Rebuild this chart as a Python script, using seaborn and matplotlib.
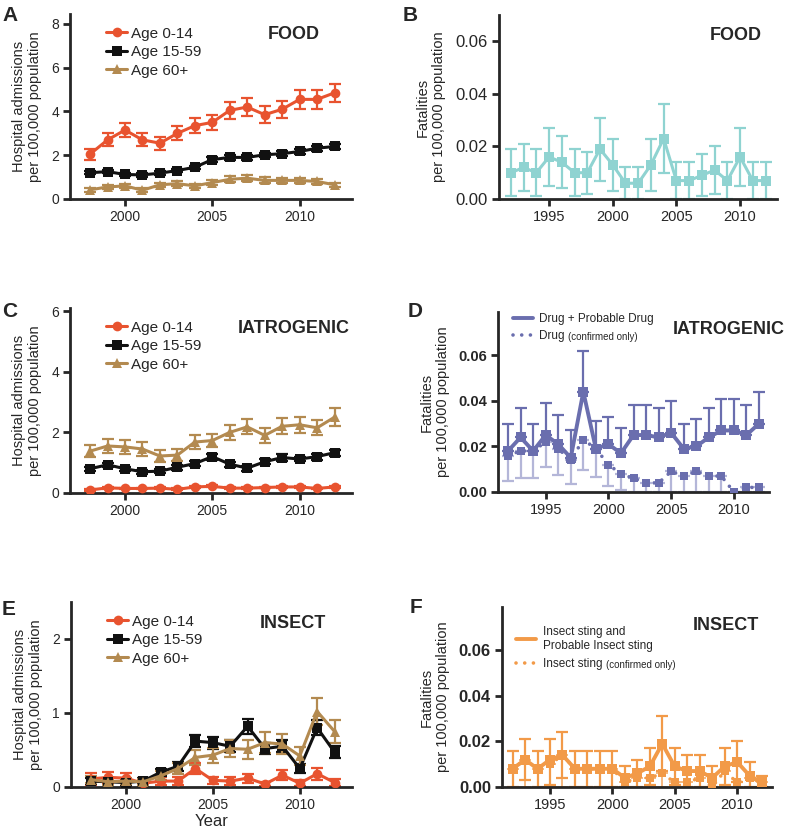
import numpy as np
import pandas as pd
import matplotlib
matplotlib.use('Agg')
import matplotlib.pyplot as plt
from matplotlib.lines import Line2D
import seaborn as sns

sns.set_style("ticks")
plt.rcParams["font.family"] = ["Liberation Sans", "DejaVu Sans"]

# === DONNEES ===
ANNEES_ADM = list(range(1998, 2013))
ANNEES_DEC = list(range(1992, 2013))
GROUPES = ["Age 0-14", "Age 15-59", "Age 60+"]

# A - food admissions
food_adm = {
    "Age 0-14": [2.05, 2.7, 3.15, 2.7, 2.55, 3.0, 3.35, 3.5, 4.05, 4.2, 3.85, 4.1, 4.55, 4.55, 4.85],
    "Age 15-59": [1.2, 1.25, 1.12, 1.1, 1.18, 1.3, 1.45, 1.8, 1.9, 1.9, 2.02, 2.07, 2.17, 2.32, 2.4],
    "Age 60+": [0.42, 0.55, 0.6, 0.4, 0.65, 0.7, 0.6, 0.75, 0.9, 0.95, 0.85, 0.85, 0.85, 0.8, 0.65],
}
food_adm_err = {
    "Age 0-14": [0.25, 0.3, 0.32, 0.3, 0.3, 0.32, 0.35, 0.35, 0.38, 0.4, 0.38, 0.38, 0.42, 0.42, 0.42],
    "Age 15-59": [0.08, 0.08, 0.08, 0.08, 0.08, 0.08, 0.08, 0.1, 0.1, 0.1, 0.1, 0.1, 0.1, 0.12, 0.12],
    "Age 60+": [0.08, 0.08, 0.08, 0.08, 0.08, 0.1, 0.1, 0.12, 0.14, 0.14, 0.14, 0.13, 0.13, 0.13, 0.1],
}

# C - iatrogenic admissions
iatro_adm = {
    "Age 0-14": [0.1, 0.17, 0.15, 0.15, 0.16, 0.12, 0.2, 0.22, 0.16, 0.16, 0.18, 0.2, 0.2, 0.15, 0.2],
    "Age 15-59": [0.8, 0.93, 0.8, 0.7, 0.72, 0.85, 0.97, 1.2, 0.95, 0.82, 1.03, 1.17, 1.12, 1.2, 1.33],
    "Age 60+": [1.38, 1.55, 1.52, 1.45, 1.22, 1.25, 1.68, 1.73, 2.0, 2.18, 1.9, 2.2, 2.25, 2.15, 2.5],
}
iatro_adm_err = {
    "Age 0-14": [0.03] * 15,
    "Age 15-59": [0.07, 0.07, 0.07, 0.07, 0.07, 0.08, 0.08, 0.1, 0.08, 0.08, 0.08, 0.1, 0.08, 0.1, 0.1],
    "Age 60+": [0.2, 0.22, 0.22, 0.22, 0.2, 0.2, 0.22, 0.22, 0.25, 0.25, 0.24, 0.26, 0.26, 0.25, 0.3],
}

# E - insect admissions
insect_adm = {
    "Age 0-14": [0.11, 0.13, 0.12, 0.05, 0.08, 0.08, 0.25, 0.09, 0.08, 0.12, 0.04, 0.16, 0.05, 0.18, 0.06],
    "Age 15-59": [0.08, 0.07, 0.06, 0.08, 0.2, 0.28, 0.62, 0.6, 0.55, 0.82, 0.52, 0.55, 0.25, 0.8, 0.47],
    "Age 60+": [0.1, 0.07, 0.08, 0.07, 0.15, 0.25, 0.4, 0.43, 0.52, 0.51, 0.6, 0.58, 0.42, 1.02, 0.75],
}
insect_adm_err = {
    "Age 0-14": [0.08, 0.07, 0.07, 0.04, 0.05, 0.05, 0.08, 0.05, 0.05, 0.06, 0.03, 0.07, 0.04, 0.08, 0.05],
    "Age 15-59": [0.04, 0.04, 0.04, 0.04, 0.05, 0.06, 0.08, 0.08, 0.08, 0.1, 0.08, 0.08, 0.06, 0.1, 0.08],
    "Age 60+": [0.05, 0.04, 0.04, 0.04, 0.06, 0.08, 0.1, 0.1, 0.12, 0.13, 0.14, 0.13, 0.12, 0.18, 0.15],
}

# B - food fatalities
food_dec = [0.010, 0.012, 0.010, 0.016, 0.014, 0.010, 0.010, 0.019, 0.013, 0.006, 0.006,
            0.013, 0.023, 0.007, 0.007, 0.009, 0.011, 0.007, 0.016, 0.007, 0.007]
food_dec_bas = [0.001, 0.003, 0.001, 0.005, 0.004, 0.001, 0.002, 0.007, 0.003, 0.0, 0.0,
                0.003, 0.010, 0.0, 0.0, 0.001, 0.002, 0.0, 0.005, 0.0, 0.0]
food_dec_haut = [0.019, 0.021, 0.019, 0.027, 0.024, 0.019, 0.018, 0.031, 0.023, 0.012, 0.012,
                 0.023, 0.036, 0.014, 0.014, 0.017, 0.020, 0.014, 0.027, 0.014, 0.014]

# D - iatrogenic fatalities
drug_prob = [0.018, 0.024, 0.018, 0.025, 0.021, 0.015, 0.044, 0.019, 0.021, 0.017, 0.025,
             0.025, 0.024, 0.026, 0.019, 0.020, 0.024, 0.027, 0.027, 0.025, 0.030]
drug_prob_haut = [0.030, 0.037, 0.030, 0.039, 0.034, 0.027, 0.062, 0.031, 0.033, 0.028, 0.038,
                  0.038, 0.037, 0.040, 0.030, 0.032, 0.037, 0.041, 0.041, 0.038, 0.044]
drug_conf = [0.016, 0.018, 0.018, 0.022, 0.019, 0.014, 0.023, 0.019, 0.012, 0.008, 0.006,
             0.004, 0.004, 0.009, 0.007, 0.009, 0.007, 0.007, 0.000, 0.002, 0.002]
drug_conf_bas = [0.005, 0.006, 0.006, 0.011, 0.0075, 0.0035, 0.0095, 0.0067, 0.0027, 0.001, 0.0,
                 0.0, 0.0, 0.0, 0.0, 0.0, 0.0, 0.0, 0.0, 0.0, 0.0]

# F - insect fatalities
sting_prob = [0.008, 0.012, 0.008, 0.012, 0.014, 0.008, 0.008, 0.008, 0.008, 0.004, 0.006,
              0.009, 0.019, 0.009, 0.007, 0.007, 0.004, 0.009, 0.011, 0.005, 0.002]
sting_prob_bas = [0.0, 0.003, 0.0, 0.001, 0.004, 0.0, 0.0, 0.0, 0.0, 0.0, 0.0,
                  0.001, 0.007, 0.001, 0.0, 0.0, 0.0, 0.001, 0.002, 0.0, 0.0]
sting_prob_haut = [0.016, 0.021, 0.016, 0.021, 0.024, 0.016, 0.016, 0.016, 0.016, 0.009, 0.012,
                   0.017, 0.031, 0.017, 0.014, 0.014, 0.009, 0.017, 0.020, 0.011, 0.005]
sting_conf = [0.008, 0.012, 0.008, 0.010, 0.014, 0.008, 0.008, 0.008, 0.008, 0.002, 0.004,
              0.004, 0.006, 0.002, 0.002, 0.004, 0.000, 0.007, 0.002, 0.004, 0.002]

# === STYLES ===
COULEURS = {"Age 0-14": "#E8532F", "Age 15-59": "#111111", "Age 60+": "#B38A50"}
MARQUEURS = {"Age 0-14": "o", "Age 15-59": "s", "Age 60+": "^"}
CYAN = "#8FD3D1"
VIOLET = "#6A6EAE"
VIOLET_CLAIR = "#B4B6D8"
ORANGE = "#F29A48"
POINTILLE = (0, (0.01, 2.4))
W, H = 789, 833


def placer(l, t, r, b):
    return [l / W, 1 - b / H, (r - l) / W, (b - t) / H]


def style_axes(ax, xlim, ylim, xticks, yticks, fmt=None, gras=False, xsize=10, ysize=10):
    ax.set_xlim(*xlim)
    ax.set_ylim(*ylim)
    ax.set_xticks(xticks)
    ax.set_yticks(yticks)
    if fmt:
        ax.set_yticklabels([fmt.format(v) for v in yticks])
    sns.despine(ax=ax)
    for s in ["left", "bottom"]:
        ax.spines[s].set_linewidth(2)
    ax.tick_params(width=2, length=5, pad=3)
    ax.tick_params(axis="x", labelsize=xsize)
    ax.tick_params(axis="y", labelsize=ysize)
    if gras:
        for lab in ax.get_yticklabels():
            lab.set_fontweight("bold")
    ax.set_xlabel("")
    ax.set_ylabel("")


def ligne_pointillee(ax, annees, vals, couleur):
    df = pd.DataFrame({"annee": annees, "val": vals})
    sns.lineplot(data=df, x="annee", y="val", ax=ax, color=couleur, marker="s", markersize=6,
                 markeredgewidth=0, linewidth=2.6, zorder=3)
    ln = ax.lines[-1]
    ln.set_linestyle(POINTILLE)
    ln.set_dash_capstyle("round")


def panel_adm(ax, vals, errs, titre, ymax, yticks, tx, ty):
    for g in GROUPES:
        df = pd.DataFrame({"annee": ANNEES_ADM, "val": vals[g]})
        ax.errorbar(ANNEES_ADM, vals[g], yerr=errs[g], fmt="none", ecolor=COULEURS[g],
                    elinewidth=1.6, capsize=4, capthick=1.6, zorder=2)
        sns.lineplot(data=df, x="annee", y="val", ax=ax, color=COULEURS[g], marker=MARQUEURS[g],
                     markersize=7, markeredgewidth=0, linewidth=2.2, label=g, zorder=3)
    style_axes(ax, (1996.85, 2013.0), (0, ymax), [2000, 2005, 2010], yticks)
    ax.legend(frameon=False, loc="upper left", bbox_to_anchor=(0.106, 0.965), fontsize=11,
              handlelength=1.4, handletextpad=0.25, labelspacing=0.3, borderaxespad=0)
    ax.text(tx, ty, titre, transform=ax.transAxes, fontsize=13, fontweight="bold", va="center")
    ax.set_ylabel("Hospital admissions\nper 100,000 population", fontsize=10.5)
    ax.yaxis.set_label_coords(-0.1, 0.5)


fig = plt.figure(figsize=(W / 100, H / 100), dpi=100)

# A
axA = fig.add_axes(placer(70, 14, 352, 199))
panel_adm(axA, food_adm, food_adm_err, "FOOD", 8.45, [0, 2, 4, 6, 8], 0.70, 0.89)

# C
axC = fig.add_axes(placer(70, 308, 352, 493))
panel_adm(axC, iatro_adm, iatro_adm_err, "IATROGENIC", 6.1, [0, 2, 4, 6], 0.595, 0.89)

# E
axE = fig.add_axes(placer(71, 602, 352, 787))
panel_adm(axE, insect_adm, insect_adm_err, "INSECT", 2.5, [0, 1, 2], 0.672, 0.886)
axE.set_xlabel("Year", fontsize=12, labelpad=1)

# B
axB = fig.add_axes(placer(499, 15, 777, 199))
dfB = pd.DataFrame({"annee": ANNEES_DEC, "val": food_dec})
axB.errorbar(ANNEES_DEC, food_dec,
             yerr=[np.array(food_dec) - np.array(food_dec_bas), np.array(food_dec_haut) - np.array(food_dec)],
             fmt="none", ecolor=CYAN, elinewidth=1.6, capsize=4, capthick=1.6, zorder=2)
sns.lineplot(data=dfB, x="annee", y="val", ax=axB, color=CYAN, marker="s", markersize=6.5,
             markeredgewidth=0, linewidth=2.2, zorder=3)
style_axes(axB, (1991.07, 2012.9), (0, 0.07), [1995, 2000, 2005, 2010],
           [0, 0.02, 0.04, 0.06], fmt="{:.2f}", xsize=10.5, ysize=12)
axB.text(0.759, 0.89, "FOOD", transform=axB.transAxes, fontsize=13, fontweight="bold", va="center")
axB.set_ylabel("Fatalities\nper 100,000 population", fontsize=10.5)
axB.yaxis.set_label_coords(-0.19, 0.5)

# D
axD = fig.add_axes(placer(498, 312, 769, 492))
dfD1 = pd.DataFrame({"annee": ANNEES_DEC, "val": drug_prob})
axD.errorbar(ANNEES_DEC, drug_conf, yerr=[np.array(drug_conf) - np.array(drug_conf_bas), np.zeros(len(drug_conf))],
             fmt="none", ecolor=VIOLET_CLAIR, elinewidth=1.6, capsize=4, capthick=1.6, zorder=2)
axD.errorbar(ANNEES_DEC, drug_prob, yerr=[np.zeros(len(drug_prob)), np.array(drug_prob_haut) - np.array(drug_prob)],
             fmt="none", ecolor=VIOLET, elinewidth=1.6, capsize=4, capthick=1.6, zorder=2)
ligne_pointillee(axD, ANNEES_DEC, drug_conf, VIOLET)
sns.lineplot(data=dfD1, x="annee", y="val", ax=axD, color=VIOLET, marker="s", markersize=7,
             markeredgewidth=0, linewidth=2.8, zorder=4)
style_axes(axD, (1991.2, 2012.8), (0, 0.079), [1995, 2000, 2005, 2010],
           [0, 0.02, 0.04, 0.06], fmt="{:.2f}", gras=True, xsize=10.5, ysize=10.5)
hD = [Line2D([], [], color=VIOLET, lw=2.8),
      Line2D([], [], color=VIOLET, lw=2.6, linestyle=POINTILLE, dash_capstyle="round")]
legD = axD.legend(hD, ["Drug + Probable Drug", "Drug"], frameon=False, loc="upper left",
                  bbox_to_anchor=(0.037, 1.02), fontsize=8.5, handlelength=1.7, handletextpad=0.5,
                  labelspacing=0.45, borderaxespad=0)
axD.text(0.646, 0.9, "IATROGENIC", transform=axD.transAxes, fontsize=13, fontweight="bold",
         va="center")
axD.set_ylabel("Fatalities\nper 100,000 population", fontsize=10.5)
axD.yaxis.set_label_coords(-0.177, 0.5)

# F
axF = fig.add_axes(placer(502, 607, 772, 787))
dfF1 = pd.DataFrame({"annee": ANNEES_DEC, "val": sting_prob})
axF.errorbar(ANNEES_DEC, sting_conf, yerr=[np.array(sting_conf), np.zeros(len(sting_conf))],
             fmt="none", ecolor=ORANGE, elinewidth=1.4, capsize=4, capthick=1.4, alpha=0.7, zorder=2)
axF.errorbar(ANNEES_DEC, sting_prob,
             yerr=[np.array(sting_prob) - np.array(sting_prob_bas), np.array(sting_prob_haut) - np.array(sting_prob)],
             fmt="none", ecolor=ORANGE, elinewidth=1.6, capsize=4, capthick=1.6, zorder=2)
ligne_pointillee(axF, ANNEES_DEC, sting_conf, ORANGE)
sns.lineplot(data=dfF1, x="annee", y="val", ax=axF, color=ORANGE, marker="s", markersize=7,
             markeredgewidth=0, linewidth=2.8, zorder=4)
style_axes(axF, (1991.15, 2012.8), (0, 0.079), [1995, 2000, 2005, 2010],
           [0, 0.02, 0.04, 0.06], fmt="{:.2f}", gras=True, xsize=10.5, ysize=12)
hF = [Line2D([], [], color=ORANGE, lw=2.8),
      Line2D([], [], color=ORANGE, lw=2.6, linestyle=POINTILLE, dash_capstyle="round")]
legF = axF.legend(hF, ["Insect sting and\nProbable Insect sting", "Insect sting"], frameon=False,
                  loc="upper left", bbox_to_anchor=(0.035, 0.92), fontsize=8.5, handlelength=1.7,
                  handletextpad=0.55, labelspacing=0.55, borderaxespad=0)
axF.text(0.707, 0.9, "INSECT", transform=axF.transAxes, fontsize=13, fontweight="bold", va="center")
axF.set_ylabel("Fatalities\nper 100,000 population", fontsize=10.5)
axF.yaxis.set_label_coords(-0.193, 0.5)

# lettres des panneaux
for lettre, x, y in [("A", 2, 6), ("B", 403, 6), ("C", 2, 302), ("D", 408, 302), ("E", 2, 600), ("F", 410, 598)]:
    fig.text(x / W, 1 - y / H, lettre, fontsize=15, fontweight="bold", va="top", ha="left")

# petit texte "(confirmed only)" apres les legendes D et F
fig.canvas.draw()
for leg in (legD, legF):
    bb = leg.get_texts()[1].get_window_extent()
    fig.text((bb.x1 + 4) / W, (bb.y0 + 0.5) / H, "(confirmed only)", fontsize=7, va="bottom", ha="left")

fig.savefig("out.png", dpi=100)
plt.close(fig)
